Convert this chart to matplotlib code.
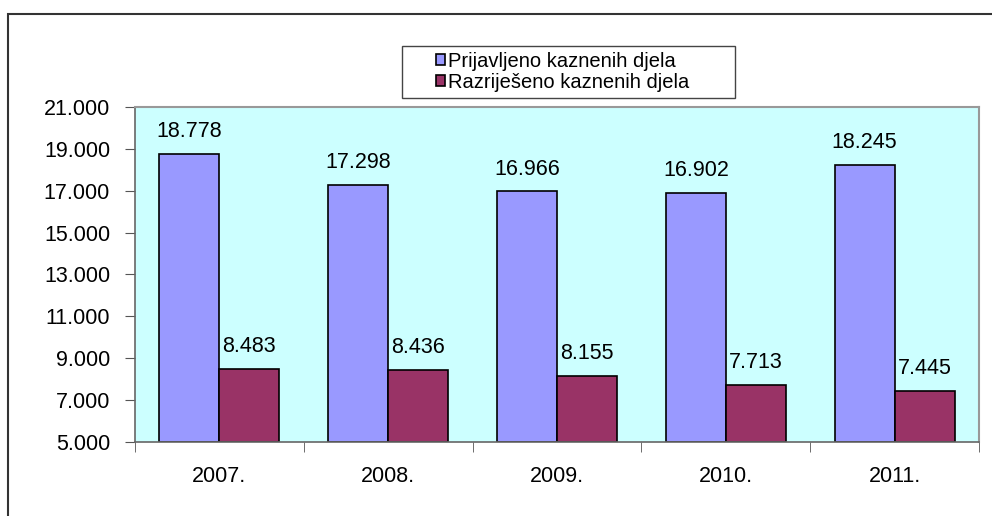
import matplotlib
matplotlib.use("Agg")
import matplotlib.pyplot as plt
import numpy as np
from matplotlib.patches import Rectangle

years = ["2007.", "2008.", "2009.", "2010.", "2011."]
prijavljeno = [18778, 17298, 16966, 16902, 18245]
razrijeseno = [8483, 8436, 8155, 7713, 7445]
series_names = ["Prijavljeno kaznenih djela", "Razriješeno kaznenih djela"]
yticks = [5000, 7000, 9000, 11000, 13000, 15000, 17000, 19000, 21000]

def fmt(v):
    return f"{v:,}".replace(",", ".")

plt.rcParams['font.family'] = ['Liberation Sans', 'DejaVu Sans']

W, H = 992, 516
FS = 15.5
fig = plt.figure(figsize=(W/100, H/100), dpi=100)
fig.patch.set_facecolor("white")
# outer border
fig.add_artist(Rectangle((8/W, -0.1), 1.2, (H-14)/H + 0.1, transform=fig.transFigure,
                         fill=False, edgecolor="#333333", linewidth=1.5))

ax = fig.add_axes([135/W, 1-442/H, (979-135)/W, (442-107)/H])
ax.set_facecolor("#CCFFFF")
x = np.arange(len(years))
bw = 0.355
b1 = ax.bar(x - bw/2, [v - 5000 for v in prijavljeno], bw, bottom=5000, color="#9999FF",
            edgecolor="black", linewidth=1.2, label=series_names[0])
b2 = ax.bar(x + bw/2, [v - 5000 for v in razrijeseno], bw, bottom=5000, color="#993366",
            edgecolor="black", linewidth=1.2, label=series_names[1])
for xi, v in zip(x - bw/2, prijavljeno):
    ax.annotate(fmt(v), (xi, v), xytext=(0, 8.5), textcoords="offset points",
                ha="center", va="bottom", fontsize=FS)
for xi, v in zip(x + bw/2, razrijeseno):
    ax.annotate(fmt(v), (xi, v), xytext=(0, 8.5), textcoords="offset points",
                ha="center", va="bottom", fontsize=FS)

ax.set_xlim(-0.5, len(years) - 0.5)
ax.set_ylim(5000, 21000)
ax.set_yticks(yticks)
ax.set_yticklabels([fmt(v) for v in yticks], fontsize=FS)
ax.set_xticks(x)
ax.set_xticklabels(years, fontsize=FS)
ax.tick_params(axis="x", length=0, pad=17.5)
ax.set_xticks(np.arange(-0.5, len(years)), minor=True)
ax.tick_params(axis="x", which="minor", length=7, color="#555555", direction="out")
ax.tick_params(axis="y", length=7, color="#555555", direction="out", pad=11)
for s in ["left", "bottom"]:
    ax.spines[s].set_color("#666666")
    ax.spines[s].set_linewidth(1.2)
for s in ["right", "top"]:
    ax.spines[s].set_color("#999999")
    ax.spines[s].set_linewidth(1.5)

# legend box
fig.add_artist(Rectangle((402/W, 1-98/H), (735-402)/W, (98-46)/H, transform=fig.transFigure,
                         facecolor="white", edgecolor="#444444", linewidth=1.0))
leg = fig.legend(handles=[b1, b2], loc="upper left",
                 bbox_to_anchor=(436/W, 1-52/H), bbox_transform=fig.transFigure,
                 fontsize=14.5, frameon=False,
                 handlelength=0.45, handleheight=0.45, handletextpad=0.15,
                 borderpad=0, labelspacing=0.08, borderaxespad=0)

fig.savefig("out.png", dpi=100)
